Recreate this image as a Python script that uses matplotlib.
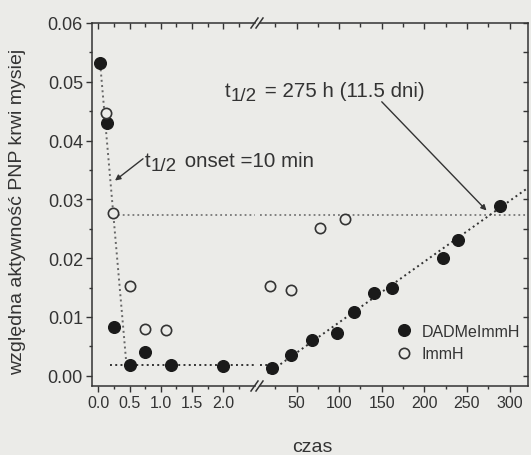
import matplotlib
matplotlib.use("Agg")
import matplotlib.pyplot as plt
from matplotlib.lines import Line2D
from matplotlib.text import Annotation

# DADMeImmH (filled), early part in hours 0..2.5 and late part in hours
dadme_t_early = [0.03, 0.14, 0.25, 0.50, 0.75, 1.16, 1.99]
dadme_v_early = [0.0532, 0.0430, 0.0083, 0.0018, 0.0040, 0.0018, 0.0016]
dadme_t_late = [20.8, 44, 68, 97, 118, 141, 162, 222, 240, 289]
dadme_v_late = [0.0013, 0.0036, 0.0060, 0.0072, 0.0108, 0.0141, 0.0150, 0.0200, 0.0231, 0.0288]

# ImmH (open)
imm_t_early = [0.13, 0.24, 0.51, 0.75, 1.09]
imm_v_early = [0.0447, 0.0277, 0.0152, 0.0079, 0.0078]
imm_t_late = [18.8, 43, 78, 107]
imm_v_late = [0.0152, 0.0145, 0.0252, 0.0267]

# guide lines
decay_t = [0.03, 0.45]
decay_v = [0.053, 0.0019]
base_v = 0.0018
base_t_early = [0.19, 2.5]
base_t_late = [6.5, 20.8]
rise_t = [16, 322]
rise_v = [0.0004, 0.0320]
half_v = 0.0273
half_t_early = [0.24, 2.5]
half_t_late = [6.5, 322]

x_major_early = [0.0, 0.5, 1.0, 1.5, 2.0]
x_minor_early = [0.25, 0.75, 1.25, 1.75, 2.25]
x_major_late = [50, 100, 150, 200, 250, 300]
x_minor_late = [25, 75, 125, 175, 225, 275]
y_major = [0.00, 0.01, 0.02, 0.03, 0.04, 0.05, 0.06]
y_minor = [0.005, 0.015, 0.025, 0.035, 0.045, 0.055]

bg = "#ebebe8"
ink = "#333333"
plt.rcParams["font.family"] = ["Liberation Sans", "DejaVu Sans"]
plt.rcParams["font.size"] = 11.5

W, H = 531, 456
xlim_early = (-0.106, 2.50)
xlim_late = (6.5, 322)
ylim = (-0.00175, 0.06)


def fx(px):
    return px / W


def fy(py):
    return 1 - py / H


fig = plt.figure(figsize=(W / 100, H / 100), dpi=100, facecolor=bg)
bot, top = fy(387), fy(24)
rect1 = [fx(91.7), bot, fx(254.5) - fx(91.7), top - bot]
rect2 = [fx(259.5), bot, fx(528.3) - fx(259.5), top - bot]
ax1 = fig.add_axes(rect1, facecolor="none")
ax2 = fig.add_axes(rect2, facecolor="none")

for ax, xl in ((ax1, xlim_early), (ax2, xlim_late)):
    ax.set_xlim(xl)
    ax.set_ylim(ylim)

dot = (0, (1, 1.7))
ax1.plot(decay_t, decay_v, ls=dot, color="#666666", lw=1.4)
ax1.plot(half_t_early, [half_v, half_v], ls=dot, color="#777777", lw=1.3)
ax2.plot(half_t_late, [half_v, half_v], ls=dot, color="#777777", lw=1.3)
ax1.plot(base_t_early, [base_v, base_v], ls=dot, color="#333333", lw=1.4)
ax2.plot(base_t_late, [base_v, base_v], ls=dot, color="#333333", lw=1.4)
ax2.plot(rise_t, rise_v, ls=dot, color="#333333", lw=1.4)

fkw = dict(ls="none", marker="o", ms=8.4, color="#1a1a1a", mec="#1a1a1a", clip_on=False, zorder=5)
okw = dict(ls="none", marker="o", ms=7.4, mfc=bg, mec="#333333", mew=1.2, clip_on=False, zorder=5)
ax1.plot(dadme_t_early, dadme_v_early, **fkw)
ax1.plot(imm_t_early, imm_v_early, **okw)
ax2.plot(dadme_t_late, dadme_v_late, label="DADMeImmH", **fkw)
ax2.plot(imm_t_late, imm_v_late, label="ImmH", **okw)

for ax in (ax1, ax2):
    for s in ax.spines.values():
        s.set_color(ink)
        s.set_linewidth(1.1)
    ax.tick_params(colors=ink, labelcolor=ink, width=1.0)
ax1.spines["right"].set_visible(False)
ax2.spines["left"].set_visible(False)

ax1.set_xticks(x_major_early)
ax1.set_xticks(x_minor_early, minor=True)
ax1.set_xticklabels(["0.0", "0.5", "1.0", "1.5", "2.0"])
ax2.set_xticks(x_major_late)
ax2.set_xticks(x_minor_late, minor=True)
ax1.set_yticks(y_major)
ax1.set_yticks(y_minor, minor=True)
ax1.set_yticklabels(["%.2f" % v for v in y_major])
ax1.tick_params(axis="both", which="major", direction="out", length=4.3, pad=2)
ax1.tick_params(axis="y", which="major", labelsize=13)
ax1.tick_params(axis="both", which="minor", direction="out", length=2.3, width=1.0, colors=ink)
ax2.tick_params(axis="x", which="major", direction="out", length=4.3, pad=2)
ax2.tick_params(axis="x", which="minor", direction="out", length=2.3, width=1.0, colors=ink)
ax2.tick_params(axis="y", which="both", left=False, right=False, labelleft=False)

# inward mirror ticks on the top edge of both parts and on the right edge
ax_h_px = 387 - 24
for ax, maj, mnr in ((ax1, x_major_early, x_minor_early), (ax2, x_major_late, x_minor_late)):
    tr = ax.get_xaxis_transform()
    ax.vlines(maj, 1 - 6 / ax_h_px, 1, transform=tr, color=ink, lw=1.0, clip_on=False)
    ax.vlines(mnr, 1 - 3.5 / ax_h_px, 1, transform=tr, color=ink, lw=1.0, clip_on=False)
ax2_w_px = 528.3 - 259.5
ax2.hlines(y_major + y_minor, 1 - 5.5 / ax2_w_px, 1, transform=ax2.get_yaxis_transform(),
           color=ink, lw=1.0, clip_on=False)

# axis break marks
for cx in (254.5, 259.5):
    for cy in (387, 24):
        fig.add_artist(Line2D([fx(cx - 3.5), fx(cx + 3.5)], [fy(cy + 5), fy(cy - 5)],
                              color=ink, lw=1.1, transform=fig.transFigure))

# axis titles
fig.text(fx(18), fy(212), "względna aktywność PNP krwi mysiej", rotation=90,
         ha="center", va="center", color=ink, fontsize=14)
fig.text(fx(312), fy(448), "czas", ha="center", va="center", color=ink, fontsize=14)


def half_life(x, y, rest):
    t = fig.text(fx(x), fy(y), "t", color=ink, fontsize=14.8, va="baseline")
    s = fig.add_artist(Annotation(
        "1/2", xy=(1, 0), xycoords=t, xytext=(0.3, -3), textcoords="offset points",
        color=ink, fontsize=13.5, va="bottom"))
    fig.add_artist(Annotation(
        rest, xy=(1, 0), xycoords=s, xytext=(1, 3), textcoords="offset points",
        color=ink, fontsize=14.8, va="bottom"))


half_life(225, 96.7, " = 275 h (11.5 dni)")
half_life(145, 167.3, " onset =10 min")

arrow = dict(arrowstyle="-|>", color=ink, lw=1.0, mutation_scale=8, shrinkA=0, shrinkB=0)
ax1.annotate("", xy=(0.267, 0.0332), xytext=(0.715, 0.0369), arrowprops=arrow)
ax2.annotate("", xy=(273, 0.0281), xytext=(150, 0.0466), arrowprops=arrow)

leg = ax2.legend(loc="upper left", bbox_to_anchor=(fx(396), fy(325)), bbox_transform=fig.transFigure,
                 frameon=False, handlelength=1.0, handletextpad=0.6, borderpad=0, borderaxespad=0,
                 labelspacing=0.45, fontsize=11.5)
for txt in leg.get_texts():
    txt.set_color(ink)

fig.savefig("out.png", dpi=100, facecolor=bg)
